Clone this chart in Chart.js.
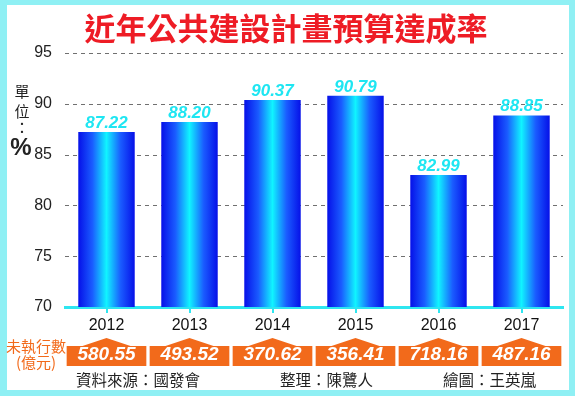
<!DOCTYPE html>
<html>
<head>
<meta charset="utf-8">
<script src="https://cdn.jsdelivr.net/npm/chart.js@4/dist/chart.umd.min.js"></script>
<style>
  html, body { margin: 0; padding: 0; background: #8ff0f4; }
  #wrap { width: 575px; height: 396px; position: relative; }
</style>
</head>
<body>
<div id="wrap"><canvas id="myChart" width="575" height="396"></canvas></div>
<script>
const years = ['2012', '2013', '2014', '2015', '2016', '2017']
const rates = [87.22, 88.20, 90.37, 90.79, 82.99, 88.85]
const unexecuted = ['580.55', '493.52', '370.62', '356.41', '718.16', '487.16']
const yTicks = [70, 75, 80, 85, 90, 95]

const CJK = '"Noto Sans CJK TC", "Noto Sans CJK SC", sans-serif'
const NUM = '"Liberation Sans", Arial, sans-serif'

// white panel with cyan frame, plus dashed grid lines
const frame = {
  id: 'frame',
  beforeDraw(chart) {
    const c = chart.ctx
    c.save()
    c.fillStyle = '#8ff0f4'
    c.fillRect(0, 0, chart.width, chart.height)
    c.fillStyle = '#ffffff'
    c.fillRect(7, 5, 562, 385)
    c.restore()
  },
  beforeDatasetsDraw(chart) {
    const c = chart.ctx
    const y = chart.scales.y
    const a = chart.chartArea
    c.save()
    c.strokeStyle = '#707070'
    c.lineWidth = 1
    c.setLineDash([4, 4])
    yTicks.slice(1).forEach(v => {
      const py = Math.round(y.getPixelForValue(v)) + 0.5
      c.beginPath()
      c.moveTo(a.left, py)
      c.lineTo(a.right, py)
      c.stroke()
    })
    c.restore()
  }
}

// title, unit label, value labels, orange boxes, footer
const extras = {
  id: 'extras',
  afterDatasetsDraw(chart) {
    const c = chart.ctx
    const x = chart.scales.x
    c.save()

    c.fillStyle = '#ee1c25'
    c.font = 'bold 31px ' + CJK
    c.textAlign = 'center'
    c.textBaseline = 'middle'
    c.fillText('近年公共建設計畫預算達成率', 286, 28)

    c.fillStyle = '#222'
    c.font = '15px ' + CJK
    c.fillText('單', 22, 91)
    c.fillText('位', 22, 111)
    c.fillText('：', 22, 127)
    c.font = 'bold 24px ' + NUM
    c.fillText('%', 21, 148)

    // values above the bars
    const meta = chart.getDatasetMeta(0)
    c.font = 'italic bold 17px ' + NUM
    c.textBaseline = 'alphabetic'
    meta.data.forEach((bar, i) => {
      c.fillStyle = '#1ee6f2'
      c.fillText(rates[i].toFixed(2), bar.x, bar.y - 4)
    })

    // unexecuted amount boxes
    const step = x.width / years.length
    years.forEach((y, i) => {
      const cx = x.getPixelForValue(i)
      const half = step * 0.48
      c.fillStyle = '#f26a1b'
      c.beginPath()
      c.moveTo(cx - half, 366)
      c.lineTo(cx - half, 346)
      c.lineTo(cx - 24, 346)
      c.lineTo(cx, 338)
      c.lineTo(cx + 24, 346)
      c.lineTo(cx + half, 346)
      c.lineTo(cx + half, 366)
      c.closePath()
      c.fill()
      c.fillStyle = '#ffffff'
      c.font = 'italic bold 19px ' + NUM
      c.textAlign = 'center'
      c.textBaseline = 'middle'
      c.fillText(unexecuted[i], cx, 355)
    })

    c.fillStyle = '#f26a1b'
    c.font = '15px ' + CJK
    c.textAlign = 'center'
    c.fillText('未執行數', 36, 346)
    c.fillText('(億元)', 36, 362)

    c.fillStyle = '#222'
    c.font = '15.5px ' + CJK
    c.textAlign = 'left'
    c.fillText('資料來源：國發會', 76, 380)
    c.fillText('整理：陳鷺人', 280, 380)
    c.fillText('繪圖：王英嵐', 443, 380)

    c.restore()
  }
}

function barFill(ctx) {
  const chart = ctx.chart
  const x = chart.scales.x
  if (!chart.chartArea || !x) return '#0a3cf0'
  const cx = x.getPixelForValue(ctx.dataIndex)
  const half = x.width / years.length * 0.68 / 2
  const g = chart.ctx.createLinearGradient(cx - half, 0, cx + half, 0)
  g.addColorStop(0, '#0610e8')
  g.addColorStop(0.25, '#1a5cff')
  g.addColorStop(0.5, '#10f4ff')
  g.addColorStop(0.75, '#1a5cff')
  g.addColorStop(1, '#0610e8')
  return g
}

let chart = new Chart(document.getElementById('myChart').getContext('2d'), {
  type: 'bar',
  data: {
    labels: years,
    datasets: [{
      data: rates,
      backgroundColor: barFill,
      barPercentage: 0.68,
      categoryPercentage: 1
    }]
  },
  options: {
    responsive: false,
    devicePixelRatio: 1,
    animation: false,
    layout: { padding: { top: 53, left: 5, right: 12, bottom: 59 } },
    plugins: { legend: { display: false }, tooltip: { enabled: false }, title: { display: false } },
    scales: {
      x: {
        afterFit: (s) => { s.height = 30 },
        grid: { drawOnChartArea: false, offset: false, color: '#2ee6f0', lineWidth: 2, tickLength: 6 },
        border: { color: '#2ee6f0', width: 3 },
        ticks: { color: '#111', font: { family: NUM, size: 16 }, padding: 3 }
      },
      y: {
        min: 70,
        max: 95,
        afterFit: (s) => { s.width = 60 },
        afterBuildTicks: (s) => { s.ticks = yTicks.map(v => ({ value: v })) },
        grid: { display: false },
        border: { display: false },
        ticks: { color: '#222', font: { family: NUM, size: 16 }, padding: 5 }
      }
    }
  },
  plugins: [frame, extras]
})
</script>
</body>
</html>
